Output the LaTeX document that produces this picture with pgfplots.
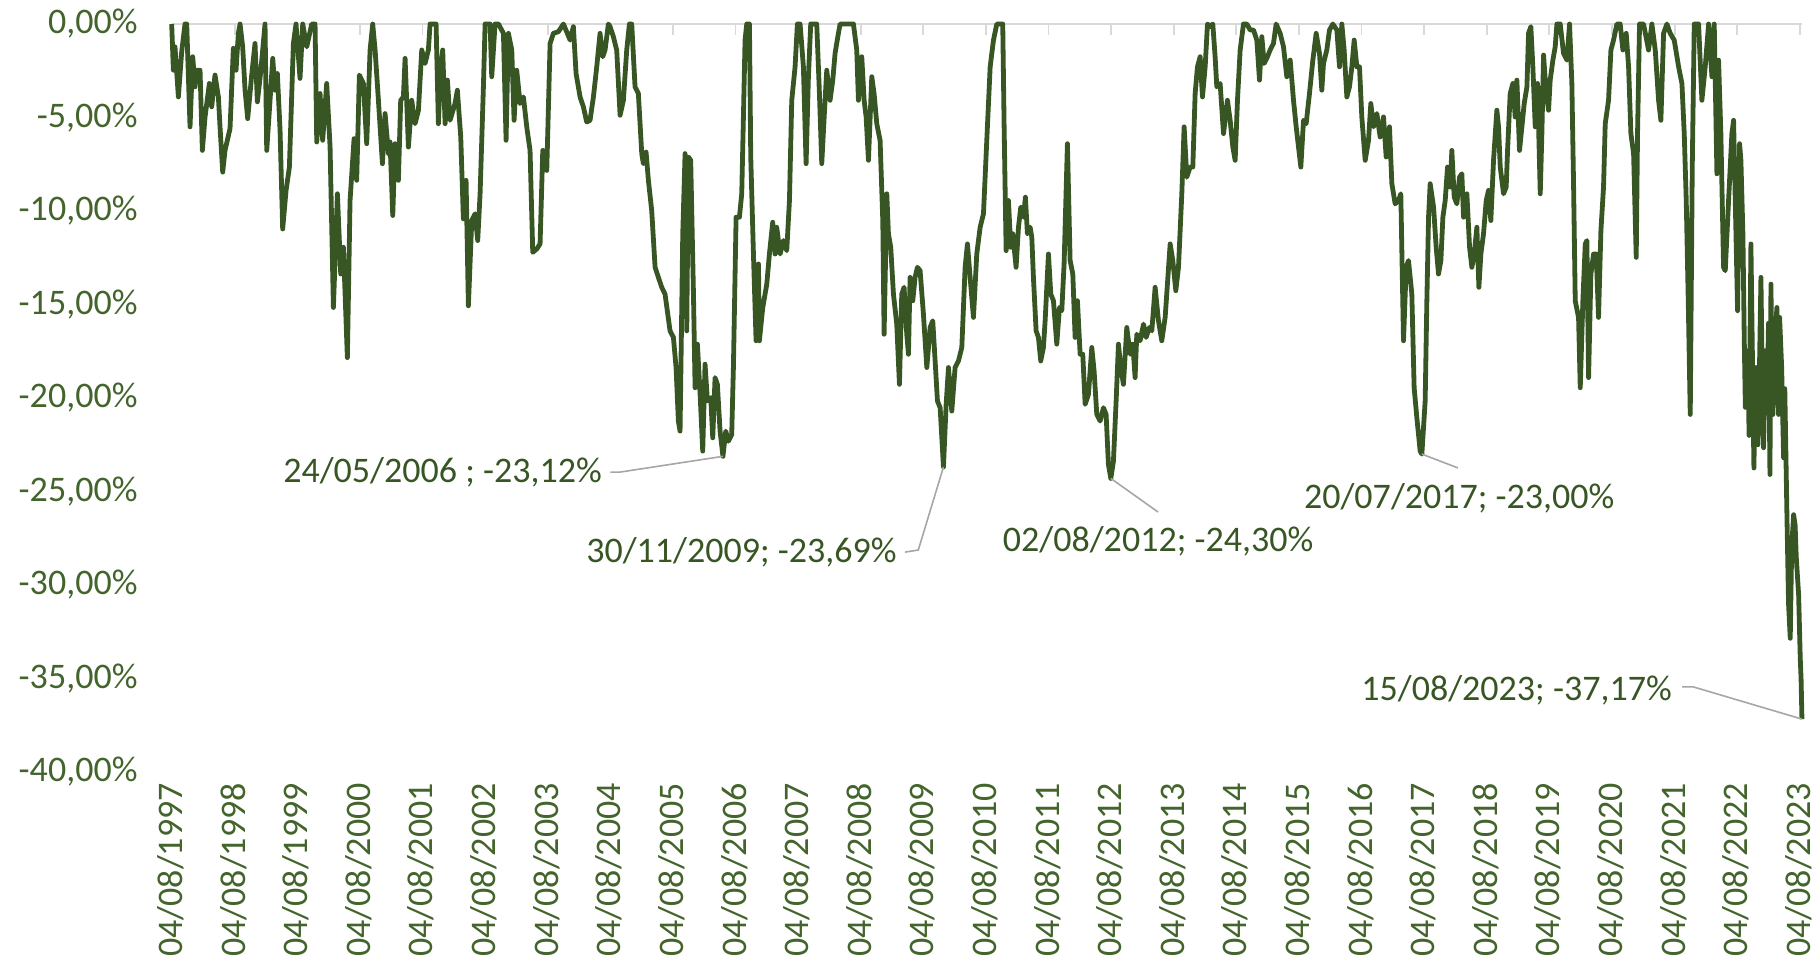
\documentclass[border=0pt]{standalone}
\usepackage{pgfplots}
\pgfplotsset{compat=1.18}
\usepackage{fontspec}
\setmainfont{Carlito}
\definecolor{dgreen}{HTML}{375623}
\definecolor{lblgreen}{HTML}{43642B}
\definecolor{axgray}{HTML}{D9D9D9}
\definecolor{leadgray}{HTML}{A6A6A6}
\newcommand\lbl{\fontsize{18bp}{21bp}\selectfont}
\begin{document}
\begin{tikzpicture}
\begin{axis}[
  scale only axis, width=815bp, height=374bp,
  xmin=1997.59, xmax=2023.625, ymin=-40, ymax=0,
  clip=false,
  axis line style={draw=none},
  xtick={1997.59,1998.59,1999.59,2000.59,2001.59,2002.59,2003.59,2004.59,2005.59,2006.59,2007.59,2008.59,2009.59,2010.59,2011.59,2012.59,2013.59,2014.59,2015.59,2016.59,2017.59,2018.59,2019.59,2020.59,2021.59,2022.59,2023.59},
  xticklabels={04/08/1997,04/08/1998,04/08/1999,04/08/2000,04/08/2001,04/08/2002,04/08/2003,04/08/2004,04/08/2005,04/08/2006,04/08/2007,04/08/2008,04/08/2009,04/08/2010,04/08/2011,04/08/2012,04/08/2013,04/08/2014,04/08/2015,04/08/2016,04/08/2017,04/08/2018,04/08/2019,04/08/2020,04/08/2021,04/08/2022,04/08/2023},
  xtick pos=right, xticklabel pos=left,
  tick align=inside,
  x tick style={draw=axgray, line width=0.9bp},
  major tick length=5.5bp,
  ytick={-40,-35,-30,-25,-20,-15,-10,-5,0},
  yticklabels={{-40,00\%},{-35,00\%},{-30,00\%},{-25,00\%},{-20,00\%},{-15,00\%},{-10,00\%},{-5,00\%},{0,00\%}},
  y tick style={draw=none},
  xticklabel style={font=\lbl, text=lblgreen, rotate=90, anchor=east, xshift=-2bp, yshift=0.6bp},
  yticklabel style={font=\lbl, text=lblgreen, anchor=east, xshift=-13.75bp},
]
\draw[axgray, line width=1bp] (axis cs:1997.59,0) -- (axis cs:2023.625,0);
\addplot[dgreen, line width=2.4bp, line join=round, mark=none] table {
1997.585 0
1997.612 -2.47
1997.638 -1.22
1997.692 -3.90
1997.745 -1.48
1997.798 0
1997.825 0
1997.878 -5.50
1997.921 -1.75
1997.958 -3.36
1997.985 -2.47
1998.038 -2.47
1998.075 -6.76
1998.118 -4.97
1998.187 -3.18
1998.224 -4.43
1998.277 -2.73
1998.331 -3.90
1998.357 -5.50
1998.400 -7.92
1998.437 -6.76
1998.517 -5.59
1998.570 -1.30
1998.613 -2.47
1998.650 -0.50
1998.677 0
1998.719 -1.22
1998.757 -3.54
1998.799 -5.06
1998.863 -2.73
1998.916 -1.04
1998.954 -4.16
1999.007 -2.56
1999.076 0
1999.103 -6.76
1999.156 -4.08
1999.199 -1.84
1999.236 -3.54
1999.273 -2.65
1999.316 -5.68
1999.358 -10.96
1999.412 -8.90
1999.465 -7.65
1999.529 -1.04
1999.571 0
1999.635 -2.91
1999.678 0
1999.742 -1.22
1999.822 0
1999.875 0
1999.902 -6.31
1999.955 -3.72
1999.997 -6.22
2000.061 -3.18
2000.115 -6.58
2000.168 -15.16
2000.232 -9.08
2000.285 -13.37
2000.328 -11.94
2000.391 -17.84
2000.434 -9.44
2000.498 -6.13
2000.540 -8.36
2000.583 -2.73
2000.647 -3.18
2000.700 -6.40
2000.754 -1.39
2000.796 0
2000.834 -1.39
2000.887 -4.08
2000.951 -7.47
2000.993 -4.79
2001.047 -6.93
2001.073 -6.31
2001.116 -10.24
2001.153 -6.40
2001.206 -8.36
2001.243 -4.08
2001.286 -3.90
2001.313 -1.84
2001.366 -6.58
2001.419 -4.08
2001.472 -5.33
2001.526 -4.61
2001.579 -1.39
2001.632 -2.11
2001.685 -1.39
2001.712 0
2001.808 0
2001.845 -5.33
2001.882 -2.29
2001.914 -1.39
2001.952 -5.33
2001.989 -3.00
2002.031 -5.15
2002.111 -4.25
2002.148 -3.54
2002.202 -6.04
2002.244 -10.42
2002.287 -8.36
2002.324 -15.07
2002.378 -10.51
2002.431 -10.15
2002.473 -11.58
2002.511 -9.08
2002.564 -3.36
2002.591 0
2002.671 0
2002.697 -2.82
2002.750 0
2002.804 0
2002.884 -0.50
2002.926 -6.22
2002.963 -0.50
2003.017 -1.39
2003.054 -5.15
2003.096 -2.47
2003.150 -4.25
2003.203 -3.90
2003.256 -5.50
2003.309 -6.76
2003.352 -12.21
2003.416 -12.03
2003.469 -11.76
2003.512 -6.76
2003.576 -7.83
2003.629 -1.04
2003.682 -0.50
2003.762 -0.41
2003.842 0
2003.949 -0.86
2004.001 -0.14
2004.044 -2.65
2004.108 -3.90
2004.161 -4.43
2004.214 -5.24
2004.267 -5.15
2004.321 -3.90
2004.374 -2.29
2004.427 -0.50
2004.470 -1.75
2004.507 -1.39
2004.560 0
2004.587 -0.14
2004.640 -0.68
2004.693 -1.39
2004.747 -4.88
2004.800 -4.08
2004.853 -1.39
2004.896 0
2004.933 0
2004.986 -3.36
2005.039 -3.72
2005.093 -6.93
2005.119 -7.47
2005.162 -6.85
2005.199 -8.36
2005.252 -9.97
2005.306 -13.01
2005.359 -13.55
2005.412 -14.08
2005.465 -14.44
2005.545 -16.41
2005.599 -16.76
2005.641 -18.37
2005.678 -21.23
2005.705 -21.77
2005.748 -11.22
2005.785 -6.93
2005.812 -16.41
2005.838 -7.11
2005.875 -7.29
2005.918 -14.26
2005.945 -19.45
2005.982 -17.12
2006.025 -19.80
2006.067 -22.84
2006.104 -18.19
2006.142 -20.16
2006.195 -19.98
2006.227 -22.13
2006.264 -18.91
2006.301 -19.27
2006.344 -21.77
2006.390 -23.12
2006.435 -21.77
2006.477 -22.31
2006.530 -21.95
2006.557 -18.37
2006.600 -10.33
2006.653 -10.33
2006.690 -9.08
2006.717 -4.97
2006.743 -0.86
2006.770 0
2006.813 0
2006.834 -7.11
2006.877 -12.30
2006.919 -16.94
2006.957 -12.83
2006.972 -16.94
2007.026 -15.16
2007.090 -13.91
2007.132 -12.30
2007.185 -10.60
2007.223 -12.30
2007.249 -10.87
2007.303 -12.30
2007.356 -11.58
2007.409 -12.12
2007.452 -9.44
2007.489 -4.08
2007.542 -2.29
2007.579 0
2007.622 0
2007.675 -2.29
2007.718 -7.47
2007.755 -2.82
2007.792 0
2007.888 0
2007.931 -3.72
2007.968 -7.47
2008.021 -4.08
2008.048 -2.47
2008.101 -4.08
2008.144 -3.00
2008.181 -1.57
2008.234 -0.50
2008.261 0
2008.474 0
2008.527 -1.39
2008.554 -4.08
2008.607 -1.75
2008.645 -4.08
2008.677 -4.97
2008.714 -7.29
2008.767 -2.82
2008.804 -3.72
2008.847 -5.33
2008.900 -6.22
2008.943 -10.51
2008.964 -16.59
2009.007 -9.08
2009.033 -11.22
2009.070 -11.94
2009.113 -14.44
2009.166 -16.05
2009.209 -19.27
2009.246 -14.44
2009.283 -14.08
2009.326 -16.59
2009.353 -17.66
2009.379 -13.55
2009.422 -14.80
2009.459 -13.55
2009.496 -13.01
2009.539 -13.19
2009.592 -15.51
2009.646 -18.37
2009.699 -16.23
2009.741 -15.87
2009.779 -18.02
2009.816 -20.16
2009.859 -20.52
2009.912 -23.69
2009.955 -20.34
2009.992 -18.37
2010.045 -20.70
2010.098 -18.37
2010.151 -18.02
2010.205 -17.30
2010.258 -13.01
2010.295 -11.76
2010.338 -13.55
2010.391 -15.69
2010.444 -12.30
2010.498 -10.87
2010.551 -10.15
2010.604 -6.22
2010.658 -2.29
2010.711 -0.86
2010.764 0
2010.859 0
2010.881 -5.50
2010.913 -12.12
2010.950 -9.44
2010.987 -11.94
2011.019 -11.22
2011.072 -13.01
2011.110 -10.87
2011.147 -9.79
2011.190 -10.33
2011.221 -9.26
2011.253 -11.22
2011.296 -10.87
2011.323 -11.40
2011.349 -13.55
2011.392 -16.41
2011.429 -16.76
2011.466 -18.02
2011.509 -17.30
2011.536 -15.87
2011.589 -12.30
2011.626 -14.44
2011.669 -14.80
2011.722 -17.12
2011.765 -15.16
2011.802 -15.33
2011.839 -12.83
2011.892 -6.40
2011.935 -12.65
2011.978 -13.37
2012.015 -16.76
2012.052 -14.80
2012.095 -17.66
2012.137 -17.66
2012.175 -20.34
2012.228 -19.80
2012.281 -17.30
2012.318 -18.55
2012.361 -20.88
2012.414 -21.23
2012.467 -20.52
2012.510 -20.88
2012.547 -23.56
2012.585 -24.30
2012.627 -23.38
2012.670 -20.16
2012.707 -17.12
2012.744 -18.37
2012.787 -19.27
2012.840 -16.23
2012.894 -17.66
2012.936 -17.12
2012.973 -18.91
2013.000 -16.59
2013.053 -16.94
2013.107 -16.05
2013.149 -16.76
2013.202 -16.23
2013.240 -16.41
2013.293 -14.08
2013.346 -15.87
2013.399 -16.94
2013.453 -15.69
2013.533 -11.76
2013.575 -12.65
2013.623 -14.26
2013.666 -13.01
2013.719 -9.08
2013.756 -5.50
2013.799 -8.19
2013.852 -7.65
2013.895 -7.65
2013.932 -3.72
2013.969 -2.29
2014.012 -1.75
2014.049 -3.90
2014.092 -2.29
2014.129 0
2014.171 -0.14
2014.214 0
2014.251 -1.75
2014.278 -3.36
2014.331 -3.18
2014.385 -5.86
2014.448 -4.08
2014.491 -5.15
2014.534 -6.58
2014.571 -7.29
2014.608 -4.08
2014.651 -1.39
2014.704 0
2014.757 0
2014.811 -0.32
2014.864 -0.32
2014.917 -0.86
2014.960 -3.00
2014.997 -0.68
2015.034 -2.11
2015.087 -1.75
2015.130 -1.39
2015.183 -1.04
2015.226 0
2015.290 -0.50
2015.343 -1.22
2015.396 -2.82
2015.450 -1.93
2015.503 -4.08
2015.546 -5.50
2015.583 -6.58
2015.620 -7.65
2015.663 -5.15
2015.705 -5.33
2015.758 -3.72
2015.812 -1.93
2015.865 -0.50
2015.918 -1.57
2015.955 -3.54
2015.982 -2.11
2016.035 -1.39
2016.078 -0.32
2016.131 0
2016.195 -0.32
2016.238 -2.29
2016.275 0
2016.312 -1.39
2016.355 -3.90
2016.397 -3.36
2016.435 -2.29
2016.472 -0.86
2016.515 -2.29
2016.557 -2.29
2016.594 -4.97
2016.648 -7.29
2016.701 -6.22
2016.738 -4.25
2016.781 -5.50
2016.834 -4.79
2016.887 -6.04
2016.941 -4.97
2016.983 -7.11
2017.036 -5.50
2017.074 -8.54
2017.127 -9.62
2017.180 -9.44
2017.217 -9.08
2017.260 -16.94
2017.303 -13.01
2017.340 -12.65
2017.393 -14.44
2017.430 -19.45
2017.473 -21.05
2017.526 -22.84
2017.553 -23.00
2017.606 -20.16
2017.633 -14.80
2017.660 -10.33
2017.686 -8.54
2017.740 -9.79
2017.782 -11.94
2017.819 -13.37
2017.857 -12.65
2017.889 -10.33
2017.926 -9.44
2017.963 -7.65
2018.006 -8.72
2018.032 -6.76
2018.070 -9.26
2018.112 -9.62
2018.155 -8.19
2018.192 -8.01
2018.219 -10.33
2018.272 -9.08
2018.315 -11.94
2018.352 -13.01
2018.389 -12.30
2018.432 -10.87
2018.464 -14.08
2018.496 -12.30
2018.538 -11.22
2018.581 -9.44
2018.618 -8.90
2018.655 -10.51
2018.698 -7.29
2018.751 -4.61
2018.778 -5.50
2018.805 -7.65
2018.858 -9.08
2018.900 -8.72
2018.922 -6.76
2018.964 -3.72
2019.007 -3.18
2019.044 -4.97
2019.071 -3.00
2019.113 -6.76
2019.151 -5.50
2019.188 -4.25
2019.231 -3.36
2019.257 -0.50
2019.294 -0.14
2019.326 -2.29
2019.364 -5.50
2019.401 -3.18
2019.444 -9.08
2019.470 -5.86
2019.497 -1.66
2019.539 -3.72
2019.577 -4.61
2019.603 -3.00
2019.646 -1.93
2019.683 -1.22
2019.710 0
2019.763 0
2019.816 -1.57
2019.870 -1.93
2019.912 0
2019.949 -3.18
2019.976 -8.54
2020.003 -14.80
2020.056 -15.69
2020.083 -19.45
2020.125 -14.80
2020.163 -11.76
2020.189 -11.58
2020.216 -18.91
2020.253 -13.37
2020.296 -12.30
2020.338 -12.30
2020.375 -15.69
2020.413 -11.05
2020.455 -8.72
2020.482 -5.33
2020.535 -4.08
2020.573 -1.39
2020.615 -0.86
2020.668 0
2020.721 0
2020.764 -1.39
2020.817 -0.50
2020.855 -2.29
2020.892 -5.86
2020.935 -6.93
2020.977 -12.48
2020.998 -5.86
2021.030 0
2021.094 0
2021.174 -1.39
2021.227 0
2021.281 -1.39
2021.334 -4.08
2021.371 -5.15
2021.414 -0.50
2021.467 0
2021.520 -0.50
2021.584 -0.86
2021.654 -2.29
2021.707 -3.18
2021.744 -5.86
2021.776 -9.44
2021.808 -14.80
2021.840 -20.88
2021.872 -7.65
2021.904 0
2021.973 0
2022.026 -4.08
2022.079 -2.29
2022.133 0
2022.186 -2.82
2022.223 0
2022.266 -8.01
2022.292 -1.93
2022.329 -5.86
2022.372 -13.01
2022.399 -13.19
2022.452 -9.44
2022.505 -5.86
2022.532 -5.15
2022.559 -9.44
2022.596 -15.33
2022.628 -6.40
2022.649 -7.29
2022.681 -11.22
2022.703 -16.94
2022.720 -20.50
2022.756 -17.48
2022.780 -22.00
2022.809 -11.76
2022.841 -19.80
2022.857 -23.74
2022.875 -19.50
2022.894 -18.37
2022.920 -22.50
2022.937 -20.16
2022.969 -13.55
2022.990 -19.00
2023.011 -22.66
2023.040 -17.48
2023.065 -20.52
2023.090 -16.00
2023.113 -24.09
2023.129 -13.91
2023.145 -19.50
2023.160 -20.88
2023.198 -16.59
2023.224 -15.16
2023.250 -20.88
2023.267 -15.69
2023.300 -18.37
2023.331 -23.20
2023.350 -19.50
2023.384 -26.24
2023.410 -31.00
2023.437 -32.85
2023.460 -28.00
2023.491 -26.24
2023.515 -26.80
2023.533 -28.50
2023.571 -30.53
2023.597 -33.93
2023.610 -35.00
2023.624 -37.17
};
% annotations
\draw[leadgray, line width=0.8bp] (axis cs:2004.59,-23.96) -- (axis cs:2004.75,-23.96) -- (axis cs:2006.39,-23.12);
\node[anchor=east, font=\lbl, text=dgreen, inner sep=0pt] at (axis cs:2004.46,-23.96) {24/05/2006 ; -23,12\%};
\draw[leadgray, line width=0.8bp] (axis cs:2009.30,-28.24) -- (axis cs:2009.51,-28.13) -- (axis cs:2009.912,-23.69);
\node[anchor=east, font=\lbl, text=dgreen, inner sep=0pt] at (axis cs:2009.17,-28.24) {30/11/2009; -23,69\%};
\draw[leadgray, line width=0.8bp] (axis cs:2012.585,-24.30) -- (axis cs:2013.34,-26.10);
\node[anchor=center, font=\lbl, text=dgreen, inner sep=0pt] at (axis cs:2013.34,-27.65) {02/08/2012; -24,30\%};
\draw[leadgray, line width=0.8bp] (axis cs:2017.553,-23.00) -- (axis cs:2018.13,-23.74);
\node[anchor=center, font=\lbl, text=dgreen, inner sep=0pt] at (axis cs:2018.15,-25.35) {20/07/2017; -23,00\%};
\draw[leadgray, line width=0.8bp] (axis cs:2021.71,-35.45) -- (axis cs:2021.89,-35.45) -- (axis cs:2023.624,-37.17);
\node[anchor=east, font=\lbl, text=dgreen, inner sep=0pt] at (axis cs:2021.55,-35.61) {15/08/2023; -37,17\%};
\end{axis}
\pgfresetboundingbox
\path[use as bounding box] (-86bp,-100.5bp) rectangle (822bp,386bp);
\end{tikzpicture}
\end{document}
